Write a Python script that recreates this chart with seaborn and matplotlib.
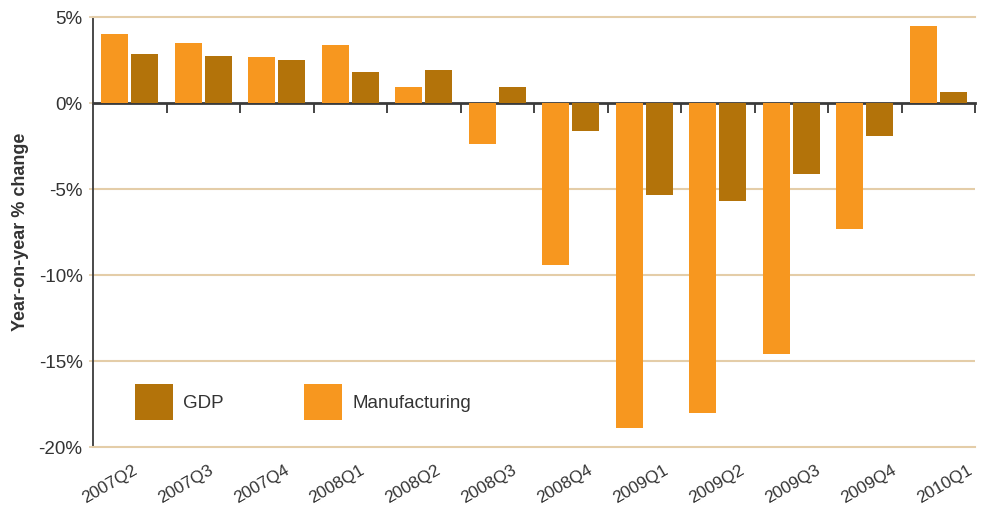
import numpy as np
import pandas as pd
import matplotlib
matplotlib.use("Agg")
import matplotlib.pyplot as plt
import matplotlib.transforms as mtransforms
from matplotlib.patches import Patch
import seaborn as sns

quarters = ["2007Q2", "2007Q3", "2007Q4", "2008Q1", "2008Q2", "2008Q3",
            "2008Q4", "2009Q1", "2009Q2", "2009Q3", "2009Q4", "2010Q1"]
manufacturing = [4.0, 3.5, 2.67, 3.37, 0.93, -2.38, -9.42, -18.9, -18.0, -14.6, -7.33, 4.48]
gdp = [2.85, 2.73, 2.5, 1.8, 1.92, 0.93, -1.63, -5.35, -5.7, -4.13, -1.92, 0.64]
y_ticks = [5, 0, -5, -10, -15, -20]
y_tick_labels = ["5%", "0%", "-5%", "-10%", "-15%", "-20%"]

MANU_C = "#F7971F"
GDP_C = "#B3730A"
TAN = "#e4cda8"
DARK = "#3a3a3a"
TXT = "#333333"

sns.set_theme(style="white")
plt.rcParams["font.family"] = ["Liberation Sans", "DejaVu Sans"]

df = pd.DataFrame({
    "Quarter": quarters * 2,
    "Series": ["Manufacturing"] * len(quarters) + ["GDP"] * len(quarters),
    "Change": manufacturing + gdp,
})

fig = plt.figure(figsize=(9.82, 5.05), dpi=100)
ax = fig.add_axes([93 / 982, 1 - 447 / 505, 882 / 982, 430 / 505])

sns.barplot(data=df, x="Quarter", y="Change", hue="Series",
            hue_order=["Manufacturing", "GDP"],
            palette={"Manufacturing": MANU_C, "GDP": GDP_C},
            width=0.816, gap=0.1, saturation=1, legend=False, ax=ax, zorder=2,
            linewidth=0, edgecolor="none")

ax.set_ylim(-20, 5)
ax.set_xlim(-0.5, len(quarters) - 0.5)

# gridlines
for v in [-5, -10, -15]:
    ax.axhline(v, color=TAN, lw=1.5, zorder=1)

ax.set_yticks(y_ticks)
ax.set_yticklabels(y_tick_labels)
ax.tick_params(axis="y", labelsize=13.5, labelcolor=TXT, color=TAN,
               length=3, width=1.2, pad=4.5, left=True)

ax.spines["right"].set_visible(False)
ax.spines["top"].set_color(TAN)
ax.spines["top"].set_linewidth(1.5)
ax.spines["bottom"].set_color(TAN)
ax.spines["bottom"].set_linewidth(1.5)
ax.spines["left"].set_color(DARK)
ax.spines["left"].set_linewidth(1.3)

# zero axis with boundary ticks pointing down
ymin, ymax = ax.get_ylim()
zero_frac = (0 - ymin) / (ymax - ymin)
sec = ax.secondary_xaxis(zero_frac)
sec.set_alignment("bottom")
sec.set_xticks(np.arange(0.5, len(quarters), 1.0))
sec.tick_params(axis="x", direction="out", length=7.5, width=1.4, color="#444444",
                bottom=True, top=False, labelbottom=False, labeltop=False)
sec.spines["bottom"].set_visible(True)
sec.spines["bottom"].set_color(DARK)
sec.spines["bottom"].set_linewidth(2)
sec.spines["top"].set_visible(False)

# category labels
ax.set_xticks(range(len(quarters)))
ax.set_xticklabels(quarters, rotation=30, ha="right", va="top", fontsize=12.3, color=TXT)
ax.tick_params(axis="x", length=0, pad=11)
for i, lab in enumerate(ax.get_xticklabels()):
    off = mtransforms.ScaledTranslation((10 + 2.4 * i) / 100, 0, fig.dpi_scale_trans)
    lab.set_transform(lab.get_transform() + off)

ax.set_xlabel("")
ax.set_ylabel("Year-on-year % change", fontsize=13, fontweight="bold", color=TXT)
ax.yaxis.set_label_coords(-0.073, 0.5)

handles = [Patch(facecolor=GDP_C, edgecolor="none", label="GDP"),
           Patch(facecolor=MANU_C, edgecolor="none", label="Manufacturing")]
leg = ax.legend(handles=handles, loc="center left", bbox_to_anchor=(0.0476, 0.1047),
                ncol=2, frameon=False, fontsize=13.5, handlelength=2.03,
                handleheight=2.5, handletextpad=0.53, columnspacing=4.3,
                borderpad=0, borderaxespad=0)
for t in leg.get_texts():
    t.set_color(TXT)

fig.savefig("out.png", dpi=100)
